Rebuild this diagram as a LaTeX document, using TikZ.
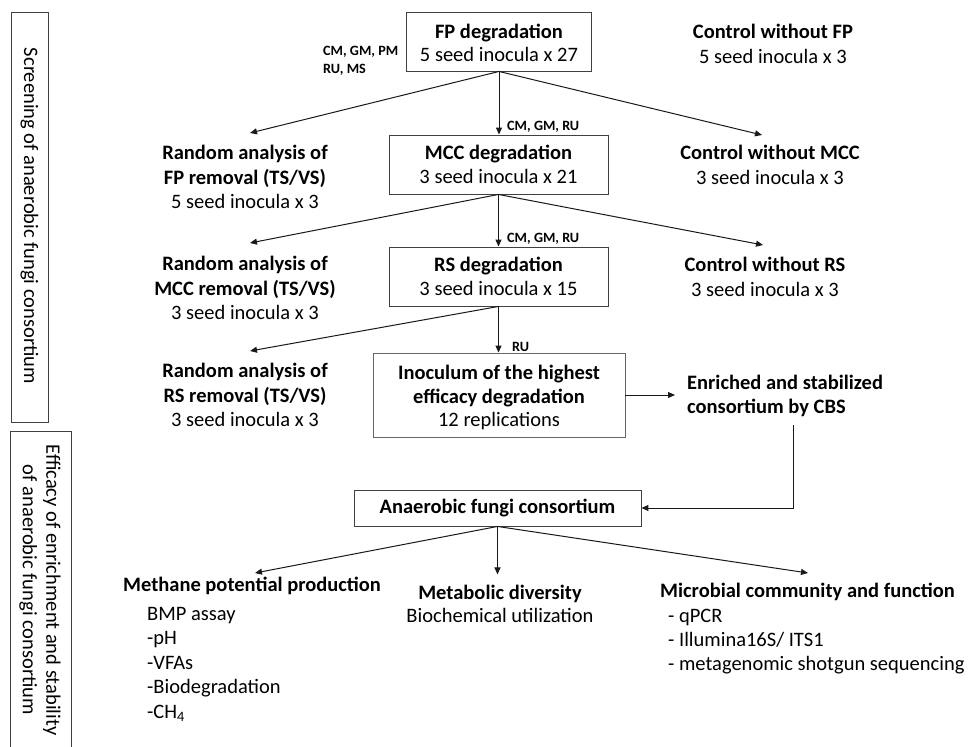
\documentclass[tikz,border=0pt]{standalone}
\usepackage{fontspec}
\setmainfont{Carlito}
\usetikzlibrary{arrows.meta}
\begin{document}
\begin{tikzpicture}[x=1pt,y=-1pt,
  txt/.style={font=\fontsize{20.5}{24.5}\selectfont, align=center, inner sep=0pt},
  btxt/.style={font=\fontsize{20.5}{23.5}\selectfont, align=center, inner sep=0pt},
  boxn/.style={draw=black!75, line width=0.9pt, inner sep=0pt},
  small/.style={font=\fontsize{14.2}{18}\selectfont\bfseries, inner sep=0pt, align=left},
  arr/.style={line width=1pt, draw=black!90, -{Triangle[length=7pt,width=6pt]}}]
\useasboundingbox (0,0) rectangle (970,747);
\fill[white] (0,0) rectangle (970,747);

% side boxes
\draw[draw=black!75, line width=0.9pt] (11,12) rectangle (48,422);
\node[txt, rotate=-90] (side1) at (29.5,216) {Screening of anaerobic fungi consortium};
\draw[draw=black!75, line width=0.9pt] (10,431) rectangle (71,760);
\node[txt, rotate=-90, font=\fontsize{20.5}{23.5}\selectfont] (side2) at (40,590) {Efficacy of enrichment and stability\\of anaerobic fungi consortium};

% main boxes
\node[boxn, minimum width=185pt, minimum height=59pt] (fp) at (499,41.5) {};
\node[btxt] (fpt) at ([yshift=-1.5pt]fp.center) {\textbf{FP degradation}\\5 seed inocula x 27};
\node[boxn, minimum width=219pt, minimum height=59pt] (mcc) at (498.5,164.5) {};
\node[btxt] (mcct) at (mcc.center) {\textbf{MCC degradation}\\3 seed inocula x 21};
\node[boxn, minimum width=219pt, minimum height=59pt] (rs) at (498.5,276.5) {};
\node[btxt] (rst) at (rs.center) {\textbf{RS degradation}\\3 seed inocula x 15};
\node[boxn, draw=black!60, minimum width=252pt, minimum height=84pt] (ino) at (499,395) {};
\node[btxt] (inot) at ([yshift=-2.5pt]ino.center) {\textbf{Inoculum of the highest}\\\textbf{efficacy degradation}\\12 replications};
\node[boxn, minimum width=287pt, minimum height=36pt] (afc) at (497.5,508) {};
\node[btxt] (afct) at (afc.center) {\textbf{Anaerobic fungi consortium}};

% small labels
\node[small, anchor=north west] (lab1) at (323,46) {CM, GM, PM\\RU, MS};
\node[small, anchor=west] (lab2) at (507,127) {CM, GM, RU};
\node[small, anchor=west] (lab3) at (507,239) {CM, GM, RU};
\node[small, anchor=west] (lab4) at (512,347) {RU};

% side texts
\node[txt] (cfp) at (773,44) {\textbf{Control without FP}\\5 seed inocula x 3};
\node[txt] (cmcc) at (770,165) {\textbf{Control without MCC}\\3 seed inocula x 3};
\node[txt] (crs) at (765,277) {\textbf{Control without RS}\\3 seed inocula x 3};
\node[txt] (rfp) at (245,177) {\textbf{Random analysis of}\\\textbf{FP removal (TS/VS)}\\5 seed inocula x 3};
\node[txt] (rmcc) at (245,288) {\textbf{Random analysis of}\\\textbf{MCC removal (TS/VS)}\\3 seed inocula x 3};
\node[txt] (rrs) at (245,395) {\textbf{Random analysis of}\\\textbf{RS removal (TS/VS)}\\3 seed inocula x 3};
\node[txt, align=left, anchor=west] (cbs) at (687,396) {\textbf{Enriched and stabilized}\\\textbf{consortium by CBS}};

% bottom texts
\node[txt, anchor=west] (meth) at (123,586) {\textbf{Methane potential production}};
\node[txt, align=left, anchor=north west, font=\fontsize{20.5}{24.5}\selectfont] (methl) at (147,607) {BMP assay\\-pH\\-VFAs\\-Biodegradation\\-CH\textsubscript{4}};
\node[btxt] (metab) at (500,604) {\textbf{Metabolic diversity}\\Biochemical utilization};
\node[txt, anchor=west] (micro) at (660,592) {\textbf{Microbial community and function}};
\node[txt, align=left, anchor=north west, font=\fontsize{20.5}{24}\selectfont] (microl) at (668,609) {- qPCR\\- Illumina16S/ ITS1\\- metagenomic shotgun sequencing};

% arrow end coordinates
\coordinate (e1) at (250,133);
\coordinate (e2) at (762,135);
\coordinate (e3) at (250,243);
\coordinate (e4) at (763,245);
\coordinate (e5) at (250,351);
\coordinate (e6) at (675,395);
\coordinate (c1) at (793,425);
\coordinate (c2) at (793,508);
\coordinate (e7) at (255,573);
\coordinate (e8) at (808,573);

% arrows
\draw[arr] (fp.south) -- (e1);
\draw[arr] (fp.south) -- (fp.south |- mcc.north);
\draw[arr] (fp.south) -- (e2);
\draw[arr] (mcc.south) -- (e3);
\draw[arr] (mcc.south) -- (mcc.south |- rs.north);
\draw[arr] (mcc.south) -- (e4);
\draw[arr] (rs.south) -- (e5);
\draw[arr] (rs.south) -- (rs.south |- ino.north);
\draw[arr] (ino.east) -- (e6);
\draw[arr] (c1) -- (c2) -- (afc.east);
\draw[arr] (afc.south) -- (e7);
\draw[arr] (afc.south) -- ++(0,48);
\draw[arr] (afc.south) -- (e8);
\end{tikzpicture}
\end{document}
